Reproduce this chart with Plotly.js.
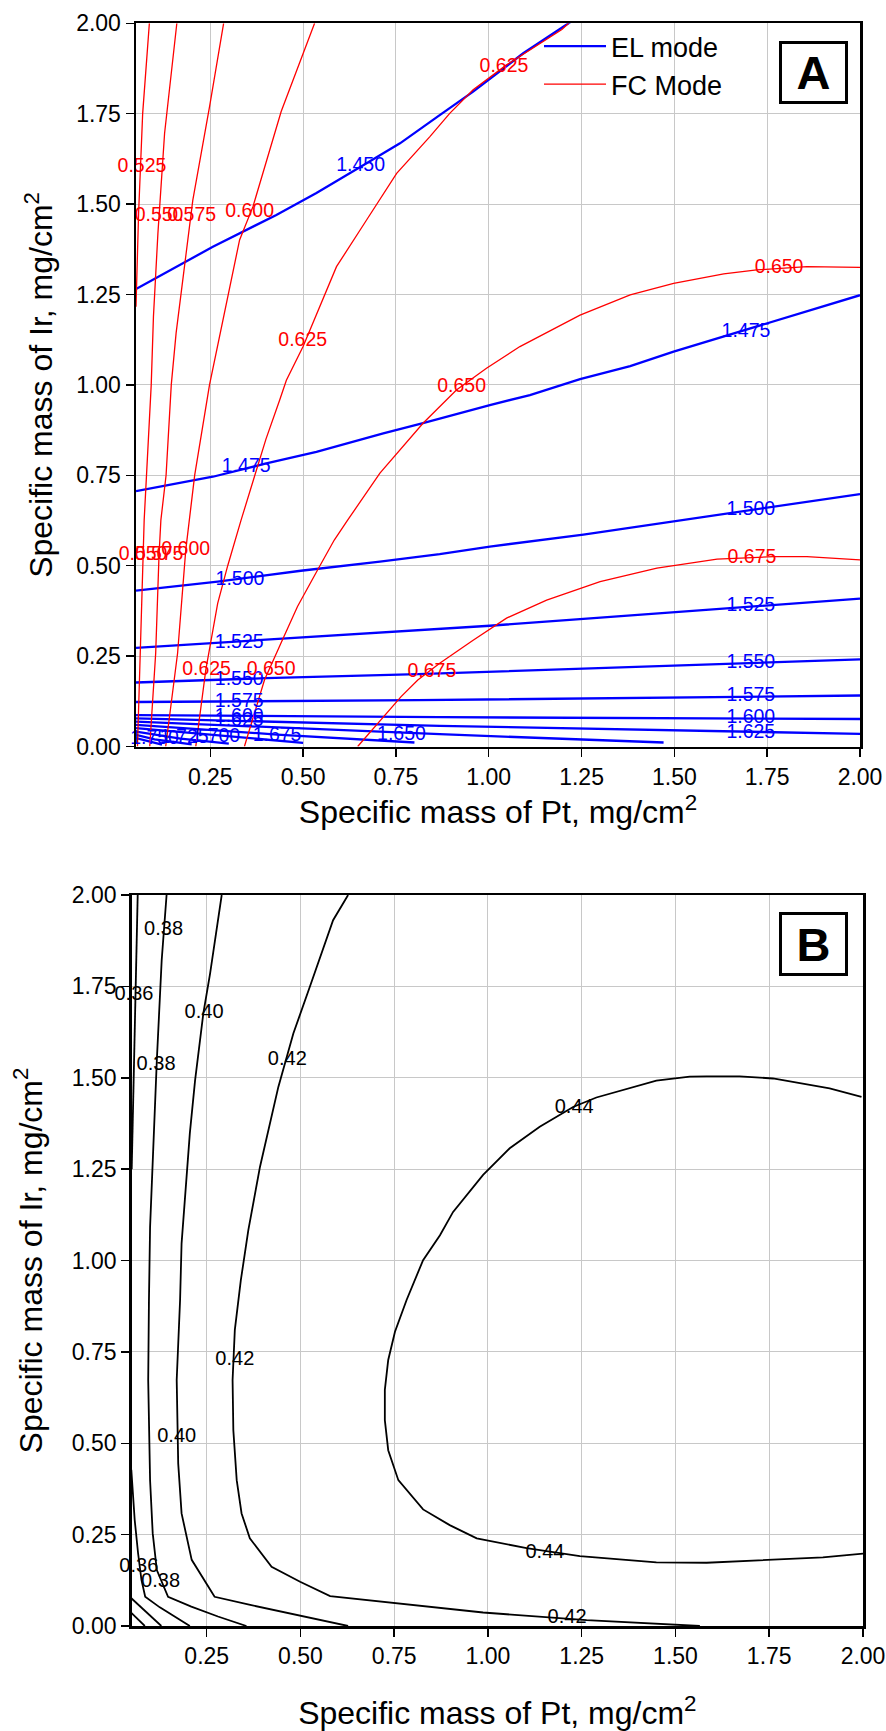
<!DOCTYPE html>
<html>
<head>
<meta charset="utf-8">
<script src="https://cdn.plot.ly/plotly-3.0.1.min.js"></script>
<style>html,body{margin:0;padding:0;background:#fff;}#chart{width:886px;height:1731px;}</style>
</head>
<body>
<div id="chart"></div>
<script>
// ---------------- Panel A : EL mode contours (cell voltage, blue) ----------------
const el1450x = [0.05, 0.257, 0.428, 0.536, 0.671, 0.761, 0.868, 0.958, 1.093, 1.228];
const el1450y = [1.265, 1.382, 1.470, 1.531, 1.613, 1.668, 1.746, 1.811, 1.917, 2.009];
const el1475x = [0.05, 0.257, 0.401, 0.536, 0.716, 0.823, 1.003, 1.111, 1.246, 1.381, 1.498, 1.677, 1.85, 2.0];
const el1475y = [0.706, 0.746, 0.783, 0.815, 0.866, 0.894, 0.944, 0.972, 1.016, 1.052, 1.092, 1.147, 1.201, 1.248];
const el1500x = [0.05, 0.27, 0.494, 0.707, 0.868, 1.003, 1.255, 1.498, 1.767, 2.0];
const el1500y = [0.431, 0.456, 0.486, 0.511, 0.532, 0.553, 0.586, 0.622, 0.663, 0.698];
const el1525x = [0.05, 0.405, 0.809, 1.003, 1.255, 1.498, 1.767, 2.0];
const el1525y = [0.273, 0.296, 0.322, 0.334, 0.353, 0.371, 0.390, 0.409];
const el1550x = [0.05, 0.40, 0.809, 1.498, 2.0];
const el1550y = [0.177, 0.189, 0.200, 0.223, 0.241];
const el1575x = [0.05, 0.809, 2.0];
const el1575y = [0.123, 0.128, 0.141];
const el1600x = [0.05, 0.868, 2.0];
const el1600y = [0.087, 0.081, 0.076];
const el1625x = [0.05, 0.868, 2.0];
const el1625y = [0.078, 0.057, 0.035];
const el1650x = [0.05, 0.868, 1.471];
const el1650y = [0.069, 0.034, 0.011];
const el1675x = [0.05, 0.43, 0.80];
const el1675y = [0.060, 0.033, 0.011];
const el1700x = [0.05, 0.27, 0.50];
const el1700y = [0.051, 0.030, 0.010];
const el1725x = [0.05, 0.17, 0.30];
const el1725y = [0.041, 0.022, 0.008];
const el1750x = [0.05, 0.10, 0.20];
const el1750y = [0.032, 0.020, 0.006];
const el1775x = [0.05, 0.12];
const el1775y = [0.023, 0.005];

const elLabelLevel = [1.450, 1.475, 1.475, 1.500, 1.500, 1.525, 1.525, 1.550, 1.550, 1.575, 1.575, 1.600, 1.600, 1.625, 1.625, 1.650, 1.675, 1.700, 1.725, 1.750];
const elLabelX = [0.655, 0.347, 1.693, 0.330, 1.706, 0.328, 1.706, 0.328, 1.706, 0.328, 1.706, 0.328, 1.706, 0.328, 1.706, 0.765, 0.430, 0.265, 0.180, 0.100];
const elLabelY = [1.606, 0.772, 1.147, 0.460, 0.654, 0.285, 0.387, 0.184, 0.230, 0.124, 0.138, 0.082, 0.078, 0.069, 0.038, 0.032, 0.029, 0.025, 0.022, 0.020];

// ---------------- Panel A : FC mode contours (cell voltage, red) ----------------
const fc0525x = [0.086, 0.068, 0.057, 0.050];
const fc0525y = [2.0, 1.751, 1.475, 1.216];
const fc0550x = [0.054, 0.061, 0.072, 0.091, 0.097, 0.109, 0.127, 0.160];
const fc0550y = [0.0, 0.258, 0.626, 1.0, 1.189, 1.419, 1.696, 2.0];
const fc0575x = [0.087, 0.103, 0.112, 0.117, 0.131, 0.145, 0.158, 0.181, 0.203, 0.248, 0.286];
const fc0575y = [0.0, 0.258, 0.529, 0.626, 0.75, 1.0, 1.143, 1.327, 1.511, 1.769, 2.0];
const fc0600x = [0.130, 0.162, 0.184, 0.193, 0.208, 0.248, 0.280, 0.329, 0.365, 0.441, 0.531];
const fc0600y = [0.0, 0.258, 0.543, 0.626, 0.75, 1.0, 1.161, 1.401, 1.493, 1.756, 2.0];
const fc0625x = [0.211, 0.238, 0.270, 0.297, 0.333, 0.369, 0.400, 0.437, 0.455, 0.500, 0.590, 0.671, 0.752, 0.841, 0.895, 0.958, 1.048, 1.197, 1.215];
const fc0625y = [0.0, 0.212, 0.396, 0.5, 0.626, 0.75, 0.85, 0.958, 1.013, 1.106, 1.327, 1.456, 1.585, 1.686, 1.751, 1.816, 1.885, 1.983, 2.0];
const fc0650x = [0.342, 0.396, 0.440, 0.485, 0.539, 0.584, 0.620, 0.707, 0.823, 0.913, 0.994, 1.084, 1.246, 1.381, 1.498, 1.633, 1.722, 1.857, 2.0];
const fc0650y = [0.0, 0.184, 0.285, 0.387, 0.488, 0.571, 0.626, 0.756, 0.894, 0.986, 1.046, 1.106, 1.193, 1.249, 1.281, 1.307, 1.318, 1.327, 1.325];
const fc0675x = [0.647, 0.710, 0.764, 0.809, 0.868, 0.958, 1.048, 1.156, 1.300, 1.453, 1.615, 1.767, 1.857, 2.0];
const fc0675y = [0.0, 0.073, 0.138, 0.184, 0.230, 0.294, 0.355, 0.405, 0.456, 0.493, 0.518, 0.525, 0.525, 0.516];

const fcLabelLevel = [0.525, 0.550, 0.550, 0.575, 0.575, 0.600, 0.600, 0.625, 0.625, 0.625, 0.650, 0.650, 0.650, 0.675, 0.675];
const fcLabelX = [0.066, 0.112, 0.069, 0.200, 0.112, 0.356, 0.184, 0.499, 1.041, 0.240, 0.414, 0.927, 1.782, 0.847, 1.709];
const fcLabelY = [1.602, 1.467, 0.530, 1.467, 0.530, 1.477, 0.543, 1.122, 1.880, 0.212, 0.212, 0.993, 1.322, 0.207, 0.520];

// ---------------- Panel B : efficiency contours (black) ----------------
const b044x = [1.996, 1.911, 1.760, 1.671, 1.583, 1.538, 1.449, 1.378, 1.289, 1.227, 1.138, 1.058, 0.987, 0.907, 0.872, 0.827, 0.783, 0.752, 0.734, 0.725, 0.725, 0.734, 0.761, 0.827, 0.898, 0.970, 1.103, 1.245, 1.449, 1.583, 1.760, 1.893, 2.0];
const b044y = [1.448, 1.471, 1.498, 1.504, 1.504, 1.503, 1.492, 1.472, 1.446, 1.420, 1.366, 1.307, 1.234, 1.133, 1.069, 1.001, 0.892, 0.805, 0.728, 0.646, 0.563, 0.481, 0.399, 0.319, 0.276, 0.240, 0.213, 0.191, 0.174, 0.173, 0.181, 0.188, 0.198];
const b042x = [0.627, 0.587, 0.525, 0.481, 0.441, 0.392, 0.361, 0.341, 0.325, 0.319, 0.321, 0.330, 0.343, 0.365, 0.423, 0.499, 0.579, 0.721, 0.898, 0.987, 1.263, 1.494, 1.565];
const b042y = [2.0, 1.931, 1.749, 1.621, 1.475, 1.256, 1.083, 0.946, 0.810, 0.673, 0.536, 0.399, 0.308, 0.240, 0.162, 0.121, 0.082, 0.066, 0.046, 0.037, 0.016, 0.005, 0.0];
const b040x = [0.290, 0.259, 0.241, 0.219, 0.205, 0.192, 0.183, 0.179, 0.170, 0.174, 0.183, 0.210, 0.271, 0.369, 0.498, 0.627];
const b040y = [2.0, 1.785, 1.676, 1.493, 1.348, 1.184, 1.047, 0.892, 0.673, 0.445, 0.308, 0.181, 0.080, 0.057, 0.028, 0.0];
const b038x = [0.143, 0.130, 0.117, 0.106, 0.099, 0.096, 0.094, 0.099, 0.106, 0.117, 0.147, 0.209, 0.280, 0.356];
const b038y = [2.0, 1.822, 1.548, 1.275, 1.092, 0.892, 0.673, 0.399, 0.254, 0.153, 0.080, 0.053, 0.026, 0.0];
const b036ax = [0.066, 0.060, 0.054, 0.050];
const b036ay = [2.0, 1.75, 1.45, 1.25];
const b036bx = [0.049, 0.058, 0.067, 0.076, 0.086, 0.125, 0.205];
const b036by = [0.427, 0.290, 0.199, 0.126, 0.080, 0.051, 0.0];
const b034x = [0.049, 0.129];
const b034y = [0.076, 0.0];
const b032x = [0.049, 0.085];
const b032y = [0.036, 0.0];

const bLabelLevel = [0.38, 0.38, 0.38, 0.36, 0.36, 0.40, 0.40, 0.42, 0.42, 0.42, 0.44, 0.44];
const bLabelX = [0.135, 0.115, 0.127, 0.056, 0.069, 0.243, 0.170, 0.465, 0.325, 1.211, 1.230, 1.152];
const bLabelY = [1.904, 1.534, 0.121, 1.726, 0.162, 1.676, 0.516, 1.548, 0.728, 0.021, 1.416, 0.200];

// axis tick values
const xTicks = [0.25, 0.50, 0.75, 1.00, 1.25, 1.50, 1.75, 2.00];
const yTicks = [0.00, 0.25, 0.50, 0.75, 1.00, 1.25, 1.50, 1.75, 2.00];

// ---------------- build traces ----------------
const FONT = 'Liberation Sans, Arial, Helvetica, sans-serif';
const BLUE = '#0000ff', RED = '#ff0000', BLACK = '#000000';

const elLines = [[el1450x, el1450y], [el1475x, el1475y], [el1500x, el1500y], [el1525x, el1525y],
  [el1550x, el1550y], [el1575x, el1575y], [el1600x, el1600y], [el1625x, el1625y], [el1650x, el1650y],
  [el1675x, el1675y], [el1700x, el1700y], [el1725x, el1725y], [el1750x, el1750y], [el1775x, el1775y]];
const fcLines = [[fc0525x, fc0525y], [fc0550x, fc0550y], [fc0575x, fc0575y], [fc0600x, fc0600y],
  [fc0625x, fc0625y], [fc0650x, fc0650y], [fc0675x, fc0675y]];
const bLines = [[b044x, b044y], [b042x, b042y], [b040x, b040y], [b038x, b038y],
  [b036ax, b036ay], [b036bx, b036by], [b034x, b034y], [b032x, b032y]];

const traces = [];
elLines.forEach((p, i) => traces.push({
  type: 'scatter', mode: 'lines', x: p[0], y: p[1], xaxis: 'x', yaxis: 'y',
  line: {color: BLUE, width: 2.3}, name: 'EL mode', legendgroup: 'el',
  showlegend: i === 0, hoverinfo: 'skip'
}));
fcLines.forEach((p, i) => traces.push({
  type: 'scatter', mode: 'lines', x: p[0], y: p[1], xaxis: 'x', yaxis: 'y',
  line: {color: RED, width: 1.3}, name: 'FC Mode', legendgroup: 'fc',
  showlegend: i === 0, hoverinfo: 'skip'
}));
bLines.forEach(p => traces.push({
  type: 'scatter', mode: 'lines', x: p[0], y: p[1], xaxis: 'x2', yaxis: 'y2',
  line: {color: BLACK, width: 1.8}, showlegend: false, hoverinfo: 'skip'
}));
traces.push({
  type: 'scatter', mode: 'text', x: elLabelX, y: elLabelY, xaxis: 'x', yaxis: 'y',
  text: elLabelLevel.map(v => v.toFixed(3)), textposition: 'middle center', cliponaxis: false,
  textfont: {family: FONT, size: 19.5, color: BLUE}, showlegend: false, hoverinfo: 'skip'
});
traces.push({
  type: 'scatter', mode: 'text', x: fcLabelX, y: fcLabelY, xaxis: 'x', yaxis: 'y',
  text: fcLabelLevel.map(v => v.toFixed(3)), textposition: 'middle center', cliponaxis: false,
  textfont: {family: FONT, size: 19.5, color: RED}, showlegend: false, hoverinfo: 'skip'
});
traces.push({
  type: 'scatter', mode: 'text', x: bLabelX, y: bLabelY, xaxis: 'x2', yaxis: 'y2',
  text: bLabelLevel.map(v => v.toFixed(2)), textposition: 'middle center', cliponaxis: false,
  textfont: {family: FONT, size: 20, color: BLACK}, showlegend: false, hoverinfo: 'skip'
});

const W = 886, H = 1731;
function axisBase(extra) {
  return Object.assign({
    showline: true, mirror: true, linecolor: BLACK, linewidth: 2.5,
    ticks: 'outside', ticklen: 8, tickwidth: 1.5, tickcolor: BLACK,
    showgrid: true, gridcolor: '#c8c8c8', gridwidth: 1, zeroline: false,
    tickfont: {family: FONT, size: 23, color: BLACK}, tickformat: '.2f'
  }, extra);
}
function xTitle(standoff) {
  return {text: 'Specific mass of Pt, mg/cm<sup>2</sup>', font: {family: FONT, size: 32, color: BLACK}, standoff: standoff};
}
function yTitle(standoff) {
  return {text: 'Specific mass of Ir, mg/cm<sup>2</sup>', font: {family: FONT, size: 32, color: BLACK}, standoff: standoff};
}

const layout = {
  width: W, height: H,
  margin: {l: 0, r: 0, t: 0, b: 0},
  paper_bgcolor: '#ffffff', plot_bgcolor: '#ffffff',
  showlegend: true,
  legend: {x: 539 / W, y: 1 - 22 / H, xanchor: 'left', yanchor: 'top',
    bgcolor: 'rgba(0,0,0,0)', borderwidth: 0, tracegroupgap: 0, itemwidth: 62,
    font: {family: FONT, size: 27, color: BLACK}},
  xaxis: axisBase({domain: [136 / W, 860 / W], range: [0.05, 2.0], tickvals: xTicks, anchor: 'y', title: xTitle(3)}),
  yaxis: axisBase({domain: [1 - 746.5 / H, 1 - 23.3 / H], range: [0, 2.0], tickvals: yTicks, anchor: 'x', title: yTitle(14)}),
  xaxis2: axisBase({domain: [131.7 / W, 863 / W], range: [0.05, 2.0], tickvals: xTicks, anchor: 'y2', title: xTitle(34)}),
  yaxis2: axisBase({domain: [1 - 1626 / H, 1 - 895 / H], range: [0, 2.0], tickvals: yTicks, anchor: 'x2', title: yTitle(20)}),
  annotations: [
    {xref: 'paper', yref: 'paper', x: 813 / W, y: 1 - 72.7 / H, xanchor: 'center', yanchor: 'middle',
     text: '<b>A</b>', showarrow: false, font: {family: FONT, size: 47, color: BLACK},
     bordercolor: BLACK, borderwidth: 3, borderpad: 0, width: 63, height: 57, bgcolor: '#ffffff'},
    {xref: 'paper', yref: 'paper', x: 813.5 / W, y: 1 - 944.3 / H, xanchor: 'center', yanchor: 'middle',
     text: '<b>B</b>', showarrow: false, font: {family: FONT, size: 47, color: BLACK},
     bordercolor: BLACK, borderwidth: 3, borderpad: 0, width: 63, height: 58, bgcolor: '#ffffff'}
  ]
};

Plotly.newPlot('chart', traces, layout, {staticPlot: true, displayModeBar: false});
</script>
</body>
</html>
